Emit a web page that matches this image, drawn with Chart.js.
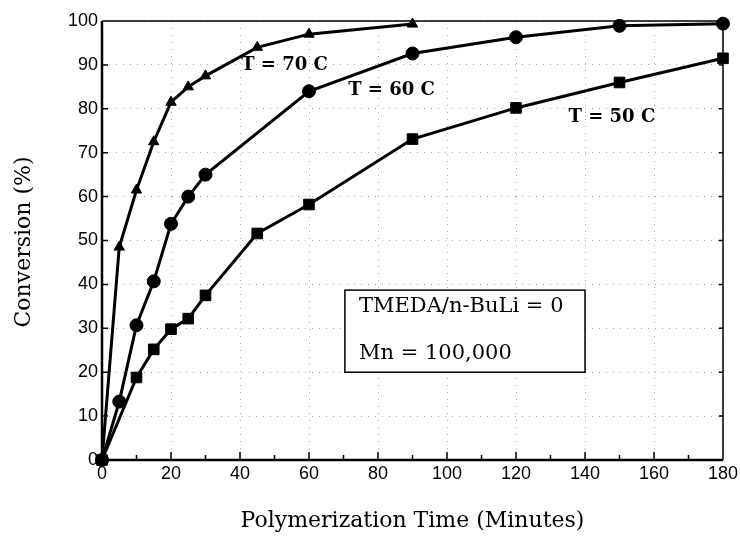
<!DOCTYPE html>
<html lang="en">
<head>
    <meta charset="UTF-8">
    <title>Conversion vs Polymerization Time</title>
    <script src="https://cdn.jsdelivr.net/npm/chart.js"></script>
    <style>
        body { margin: 0; background: white; }
        #wrap { width: 740px; height: 541px; }
    </style>
</head>
<body>
    <div id="wrap"><canvas id="myChart" width="740" height="541"></canvas></div>
    <script>
        // readings
        const t70Time = [0, 5, 10, 15, 20, 25, 30, 45, 60, 90];
        const t70Conv = [0, 48.5, 61.5, 72.5, 81.5, 85, 87.5, 94, 97, 99.3];
        const t60Time = [0, 5, 10, 15, 20, 25, 30, 60, 90, 120, 150, 180];
        const t60Conv = [0, 13.3, 30.7, 40.7, 53.8, 60, 65, 84, 92.6, 96.3, 98.9, 99.4];
        const t50Time = [0, 10, 15, 20, 25, 30, 45, 60, 90, 120, 150, 180];
        const t50Conv = [0, 18.8, 25.2, 29.8, 32.2, 37.5, 51.6, 58.2, 73.1, 80.2, 86, 91.5];

        const seriesLabels = ['T = 70 C', 'T = 60 C', 'T = 50 C'];
        const boxLines = ['TMEDA/n-BuLi = 0', 'Mn = 100,000'];
        const xTitle = 'Polymerization Time (Minutes)';
        const yTitle = 'Conversion (%)';

        const toPoints = (xs, ys) => xs.map((x, i) => ({ x: x, y: ys[i] }));

        function lineSet(label, xs, ys, style, radius) {
            return {
                label: label,
                data: toPoints(xs, ys),
                borderColor: '#000',
                backgroundColor: '#000',
                borderWidth: 3,
                pointStyle: style,
                pointRadius: radius,
                pointBorderWidth: 1,
                tension: 0,
                clip: false
            };
        }

        const extras = {
            id: 'extras',
            beforeDatasetsDraw(chart) {
                const { ctx, chartArea: a, scales: { x, y } } = chart;
                ctx.save();
                ctx.strokeStyle = '#000';
                // inward ticks
                ctx.lineWidth = 1.5;
                for (let v = 10; v < 180; v += 10) {
                    const px = x.getPixelForValue(v);
                    const len = v % 20 === 0 ? 8 : 5;
                    ctx.beginPath();
                    ctx.moveTo(px, a.bottom);
                    ctx.lineTo(px, a.bottom - len);
                    ctx.stroke();
                }
                for (let v = 10; v < 100; v += 10) {
                    const py = y.getPixelForValue(v);
                    ctx.beginPath();
                    ctx.moveTo(a.left, py);
                    ctx.lineTo(a.left + 6, py);
                    ctx.moveTo(a.right, py);
                    ctx.lineTo(a.right - 4, py);
                    ctx.stroke();
                }
                // frame
                ctx.lineWidth = 1.5;
                ctx.beginPath();
                ctx.moveTo(a.left, a.top);
                ctx.lineTo(a.right, a.top);
                ctx.lineTo(a.right, a.bottom);
                ctx.stroke();
                ctx.lineWidth = 2.5;
                ctx.beginPath();
                ctx.moveTo(a.left, a.top);
                ctx.lineTo(a.left, a.bottom);
                ctx.lineTo(a.right, a.bottom);
                ctx.stroke();

                // text box
                const bx1 = x.getPixelForValue(70.4), bx2 = x.getPixelForValue(140);
                const by1 = y.getPixelForValue(38.7), by2 = y.getPixelForValue(20);
                ctx.fillStyle = '#fff';
                ctx.fillRect(bx1, by1, bx2 - bx1, by2 - by1);
                ctx.lineWidth = 1.5;
                ctx.strokeRect(bx1, by1, bx2 - bx1, by2 - by1);
                ctx.fillStyle = '#000';
                ctx.font = '21px "DejaVu Serif"';
                ctx.textAlign = 'left';
                ctx.textBaseline = 'middle';
                ctx.fillText(boxLines[0], x.getPixelForValue(74.5), y.getPixelForValue(34.9));
                ctx.fillText(boxLines[1], x.getPixelForValue(74.5), y.getPixelForValue(24.3));
                ctx.restore();
            },
            afterDatasetsDraw(chart) {
                const { ctx, chartArea: a, scales: { x, y } } = chart;
                ctx.save();
                ctx.fillStyle = '#000';
                ctx.textAlign = 'center';
                ctx.textBaseline = 'middle';
                ctx.font = 'bold 18px "DejaVu Serif"';
                ctx.fillText(seriesLabels[0], x.getPixelForValue(52.9), y.getPixelForValue(90));
                ctx.fillText(seriesLabels[1], x.getPixelForValue(83.9), y.getPixelForValue(84.3));
                ctx.fillText(seriesLabels[2], x.getPixelForValue(147.8), y.getPixelForValue(78.1));

                // axis titles
                ctx.font = '22px "DejaVu Serif"';
                ctx.fillText(xTitle, (a.left + a.right) / 2, 521);
                ctx.translate(24, 242);
                ctx.rotate(-Math.PI / 2);
                ctx.fillText(yTitle, 0, 0);
                ctx.restore();
            }
        };

        new Chart(document.getElementById('myChart'), {
            type: 'line',
            data: {
                datasets: [
                    lineSet(seriesLabels[0], t70Time, t70Conv, 'triangle', 6),
                    lineSet(seriesLabels[1], t60Time, t60Conv, 'circle', 6.5),
                    lineSet(seriesLabels[2], t50Time, t50Conv, 'rect', 7.5)
                ]
            },
            options: {
                responsive: false,
                animation: false,
                layout: { padding: { left: 0, right: 17, top: 21, bottom: 0 } },
                plugins: { legend: { display: false }, tooltip: { enabled: false } },
                scales: {
                    x: {
                        type: 'linear',
                        min: 0,
                        max: 180,
                        ticks: { stepSize: 20, padding: 3, color: '#000', font: { family: 'Liberation Sans', size: 18 } },
                        grid: { color: '#aaa', lineWidth: 1, drawTicks: false },
                        border: { display: false, dash: [1, 6] },
                        afterFit(s) { s.height = 81; s.paddingLeft = 0; s.paddingRight = 0; }
                    },
                    y: {
                        min: 0,
                        max: 100,
                        ticks: { stepSize: 10, padding: 4, color: '#000', font: { family: 'Liberation Sans', size: 18 } },
                        grid: { color: '#aaa', lineWidth: 1, drawTicks: false },
                        border: { display: false, dash: [1, 6] },
                        afterFit(s) { s.width = 102; s.paddingTop = 0; s.paddingBottom = 0; }
                    }
                }
            },
            plugins: [extras]
        });
    </script>
</body>
</html>
